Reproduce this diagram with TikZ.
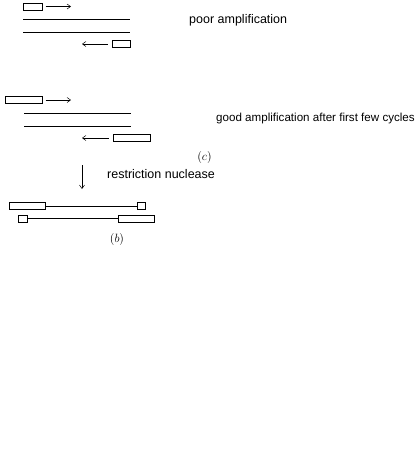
\documentclass[tikz,border=0pt]{standalone}
\usepackage{fontspec}
\setmainfont{Liberation Sans}
\usepackage{tikz}
\usetikzlibrary{positioning, calc, arrows.meta}

\begin{document}
\begin{tikzpicture}[
    x=1pt, y=-1pt,
    font=\fontsize{12.5}{14}\selectfont,
    primer/.style={rectangle, draw=black, line width=0.5pt, inner sep=0pt, minimum height=7pt},
    strand/.style={line width=0.6pt},
    arrow/.style={-{Straight Barb[length=3.5pt, width=5pt]}, line width=0.5pt},
    fig/.style={font=\fontsize{12}{14}\selectfont}
]
\useasboundingbox (0,0) rectangle (415,461);

% Poor amplification: short primers
\node[primer, minimum width=19pt, anchor=west] (p1) at (23,6.5) {};
\coordinate (a1) at (71,6.5);
\draw[arrow] ([xshift=3pt]p1.east) -- (a1);
\coordinate (s1a) at (23,19);  \coordinate (s1b) at (130,19);
\coordinate (s2a) at (23,32);  \coordinate (s2b) at (130,32);
\draw[strand] (s1a) -- (s1b);
\draw[strand] (s2a) -- (s2b);
\node[primer, minimum width=18pt, anchor=east] (p2) at (130,44) {};
\coordinate (a2) at (82,44);
\draw[arrow] ([xshift=-4pt]p2.west) -- (a2);
\node[anchor=west, inner sep=0pt] (poor) at (189,20) {poor amplification};

% Good amplification: long primers
\node[primer, minimum width=37pt, anchor=west] (p3) at (5,100) {};
\coordinate (a3) at (71,100);
\draw[arrow] ([xshift=3pt]p3.east) -- (a3);
\coordinate (s3a) at (24,113);  \coordinate (s3b) at (131,113);
\coordinate (s4a) at (24,126);  \coordinate (s4b) at (131,126);
\draw[strand] (s3a) -- (s3b);
\draw[strand] (s4a) -- (s4b);
\node[primer, minimum width=37pt, anchor=east] (p4) at (150,138) {};
\coordinate (a4) at (82,138);
\draw[arrow] ([xshift=-4pt]p4.west) -- (a4);
\node[anchor=west, inner sep=0pt, font=\fontsize{11.6}{14}\selectfont] (good) at (216,118) {good amplification after first few cycles};
\node[fig] (labc) at (204.5,157) {$(c)$};

% Restriction step
\coordinate (d1) at (82,165);
\coordinate (d2) at (82,189);
\draw[arrow] (d1) -- (d2);
\node[anchor=west, inner sep=0pt] (restr) at (107,174) {restriction nuclease};

% Products
\node[primer, minimum width=36pt, anchor=west] (b1) at (9,206) {};
\node[primer, minimum width=8pt, anchor=west] (b2) at (137,206) {};
\draw[strand] (b1.east) -- (b2.west);
\node[primer, minimum width=9pt, anchor=west] (b3) at (18,218.5) {};
\node[primer, minimum width=36pt, anchor=east] (b4) at (154,218.5) {};
\draw[strand] (b3.east) -- (b4.west);
\node[fig] (labb) at (117,239) {$(b)$};

\end{tikzpicture}
\end{document}
